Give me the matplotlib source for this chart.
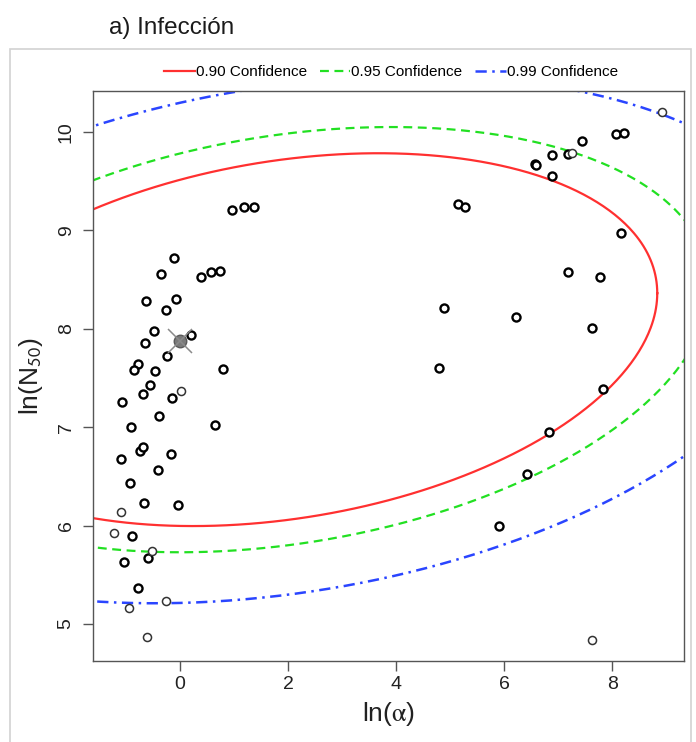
import numpy as np
import matplotlib
matplotlib.use('Agg')
import matplotlib.pyplot as plt
from matplotlib.lines import Line2D
from matplotlib.patches import Rectangle

plt.rcParams['font.family'] = ['Liberation Sans', 'DejaVu Sans']
plt.rcParams['mathtext.fontset'] = 'stix'

# puntos bootstrap (ln alpha, ln N50), trazo grueso
ln_alpha = [-0.12, -0.36, 0.39, 0.57, 0.74, -0.63, -0.07, -0.25, -0.49, -0.65,
            0.21, -0.24, -0.78, -0.86, -0.46, 0.80, -0.55, -0.68, -0.14, -1.08,
            -0.39, -0.91, 0.64, -0.74, -0.68, -1.10, -0.16, -0.41, -0.93, -0.67,
            -0.03, -0.89, -0.60, -1.03, -0.78, 0.96, 1.18, 1.37,
            6.56, 6.58, 6.88, 7.17, 7.43, 8.06, 8.21, 6.88, 5.14, 5.28, 8.16,
            7.18, 7.77, 4.89, 6.22, 7.62, 4.79, 7.83, 6.82, 6.42, 5.90]
ln_n50 = [8.72, 8.55, 8.52, 8.57, 8.59, 8.28, 8.30, 8.19, 7.98, 7.85,
          7.94, 7.72, 7.64, 7.58, 7.57, 7.59, 7.43, 7.34, 7.30, 7.25,
          7.11, 7.00, 7.02, 6.76, 6.80, 6.68, 6.73, 6.56, 6.43, 6.23,
          6.21, 5.89, 5.67, 5.63, 5.37, 9.20, 9.23, 9.24,
          9.67, 9.66, 9.76, 9.77, 9.91, 9.98, 9.99, 9.55, 9.27, 9.24, 8.97,
          8.58, 8.52, 8.21, 8.12, 8.01, 7.60, 7.39, 6.95, 6.52, 6.00]

# puntos de trazo fino
ln_alpha_fino = [0.01, -1.10, -1.22, -0.51, -0.26, -0.94, -0.61, 7.63, 8.91, 7.26]
ln_n50_fino = [7.37, 6.14, 5.92, 5.74, 5.23, 5.16, 4.87, 4.84, 10.20, 9.78]

# estimacion puntual
est_alpha, est_n50 = 0.0, 7.87

# region de confianza (centro y covarianza)
centro = [1.955, 7.888]
covarianza = [[10.265, 0.7047], [0.7047, 0.7781]]
niveles = [0.90, 0.95, 0.99]
etiquetas = ['0.90 Confidence', '0.95 Confidence', '0.99 Confidence']
colores = ['#ff3030', '#22e022', '#2a45ff']
estilos = ['-', (0, (4, 2.5)), (0, (4.5, 2.2, 1, 2.2))]

fig = plt.figure(figsize=(6.96, 7.42), dpi=100)
ax = fig.add_axes([0.1332, 0.1092, 0.8489, 0.7675])

# elipses
L = np.linalg.cholesky(np.array(covarianza))
t = np.linspace(0, 2 * np.pi, 600)
circ = np.vstack([np.cos(t), np.sin(t)])
handles = []
for p, col, ls, lab in zip(niveles, colores, estilos, etiquetas):
    r = np.sqrt(-2 * np.log(1 - p))
    pts = np.array(centro)[:, None] + r * (L @ circ)
    lw = 1.6 if p < 0.99 else 1.8
    ax.plot(pts[0], pts[1], color=col, lw=lw, linestyle=ls)
    handles.append(Line2D([], [], color=col, lw=lw, linestyle=ls, label=lab))

# puntos
ax.plot(ln_alpha, ln_n50, 'o', mfc='white', mec='black', ms=5.8, mew=1.7, ls='none')
ax.plot(ln_alpha_fino, ln_n50_fino, 'o', mfc='white', mec='#333333', ms=5.8, mew=1.1, ls='none')
ax.plot(est_alpha, est_n50, 'o', mfc='#7a7a7a', mec='#5a5a5a', ms=9, mew=1, zorder=5)
ax.plot(est_alpha, est_n50, 'x', color='#8a8a8a', ms=17, mew=1.1, zorder=6)

ax.set_xlim(-1.615, 9.317)
ax.set_ylim(4.625, 10.408)
ax.set_xticks([0, 2, 4, 6, 8])
ax.set_yticks([5, 6, 7, 8, 9, 10])

for s in ax.spines.values():
    s.set_color('#555555')
    s.set_linewidth(1.0)
ax.tick_params(colors='#555555', length=7, width=1.0, labelsize=14, labelcolor='#222222')
ax.tick_params(axis='x', pad=4)
ax.tick_params(axis='y', pad=6, labelrotation=90)
for lab in ax.get_yticklabels():
    lab.set_va('center')

ax.set_xlabel(r'ln($\mathrm{\alpha}$)', fontsize=19, color='#222222')
ax.set_ylabel(r'ln(N$_{\mathsf{50}}$)', fontsize=19, color='#222222')
ax.xaxis.set_label_coords(0.5, -0.068)
ax.yaxis.set_label_coords(-0.081, 0.5)

fig.legend(handles=handles, loc='center', bbox_to_anchor=(0.562, 0.903), ncol=3,
           frameon=False, fontsize=11, handlelength=2.0, handletextpad=0.05,
           columnspacing=0.85)

fig.text(109 / 696, 1 - 34 / 742, 'a) Infección', fontsize=17.5, ha='left', va='baseline',
         color='#1a1a1a')

fig.patches.append(Rectangle((0.0144, -0.01), 0.978, 0.944, transform=fig.transFigure,
                             fill=False, edgecolor='#d2d2d2', lw=1.2))

fig.savefig('out.png', dpi=100)
